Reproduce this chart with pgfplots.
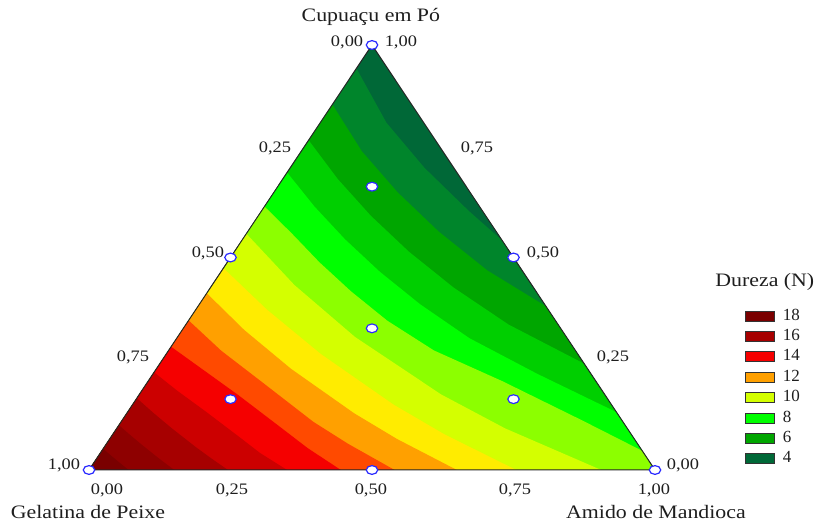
\documentclass[border=0pt]{standalone}
\usepackage{fontspec}
\setmainfont{Liberation Serif}
\usepackage{graphicx}
\usepackage{pgfplots}
\pgfplotsset{compat=1.18}
\definecolor{b4}{HTML}{006837}
\definecolor{b5}{HTML}{00852B}
\definecolor{b6}{HTML}{00A600}
\definecolor{b7}{HTML}{00CF00}
\definecolor{b8}{HTML}{00FF00}
\definecolor{b9}{HTML}{8CFF00}
\definecolor{b10}{HTML}{D4FF00}
\definecolor{b11}{HTML}{FFEC00}
\definecolor{b12}{HTML}{FFA000}
\definecolor{b13}{HTML}{FF4A00}
\definecolor{b14}{HTML}{F50000}
\definecolor{b15}{HTML}{CC0000}
\definecolor{b16}{HTML}{A60000}
\definecolor{b17}{HTML}{8E0000}
\definecolor{b18}{HTML}{7A0000}
\definecolor{ptblue}{HTML}{2A2AFF}
\definecolor{txt}{HTML}{1E1E1E}
\newcommand{\sx}[1]{\scalebox{1.15}[1]{#1}}
\newcommand{\tk}{\fontsize{8}{9}\selectfont}
\newcommand{\tl}{\fontsize{9.5}{11}\selectfont}
\begin{document}
\begin{tikzpicture}
\begin{axis}[
  name=ax,
  width=407.5pt, height=261.5pt, scale only axis,
  xmin=-0.15724, xmax=1.28269, ymin=-0.12471, ymax=1.10588,
  hide axis, clip=false,
  legend style={at={(axis cs:1.159,0.379)}, anchor=north west, draw=none, fill=none,
    inner sep=0pt, outer sep=0pt, row sep=3.05pt, column sep=4pt,
    font=\fontsize{8.5}{9}\selectfont, nodes={inner sep=0pt, text=txt}},
  legend cell align=left,
  legend image code/.code={\draw[#1, draw=black!80, line width=0.4pt] (0pt,-2.5pt) rectangle (14.5pt,2.5pt);},
  every node/.append style={inner sep=0pt, outer sep=0pt},
]
% bands, painted from the lowest level upwards
\addplot[fill=b4, draw=none, forget plot] coordinates {(0,0) (1,0) (0.5,1)} -- cycle;
\addplot[fill=b5, draw=none, forget plot] coordinates {(0.4725,0.945) (0.5254,0.8173) (0.5926,0.7111) (0.6708,0.6098) (0.73,0.54) (1,0) (0,0)} -- cycle;
\addplot[fill=b6, draw=none, forget plot] coordinates {(0.43,0.86) (0.4821,0.7499) (0.5449,0.6539) (0.6175,0.5614) (0.704,0.4694) (0.8075,0.385) (1,0) (0,0)} -- cycle;
\addplot[fill=b7, draw=none, forget plot] coordinates {(0.388,0.776) (0.4398,0.6841) (0.4982,0.5978) (0.5651,0.5138) (0.644,0.4294) (0.7413,0.3422) (0.875,0.25) (1,0) (0,0)} -- cycle;
\addplot[fill=b8, draw=none, forget plot] coordinates {(0.35,0.70) (0.3984,0.6198) (0.4523,0.5428) (0.5135,0.4668) (0.585,0.39) (0.672,0.3102) (0.7919,0.2263) (0.932,0.136) (1,0) (0,0)} -- cycle;
\addplot[fill=b9, draw=none, forget plot] coordinates {(0.31,0.62) (0.358,0.5569) (0.4072,0.4886) (0.4627,0.4206) (0.527,0.3513) (0.6094,0.2813) (0.7306,0.2088) (0.8719,0.1163) (0.9775,0.045) (1,0) (0,0)} -- cycle;
\addplot[fill=b10, draw=none, forget plot] coordinates {(0.278,0.556) (0.3628,0.4354) (0.4698,0.3132) (0.6221,0.1778) (0.735,0.098) (0.905,0) (0,0)} -- cycle;
\addplot[fill=b11, draw=none, forget plot] coordinates {(0.2375,0.475) (0.3144,0.3773) (0.4095,0.273) (0.5381,0.1538) (0.6281,0.0838) (0.755,0) (0,0)} -- cycle;
\addplot[fill=b12, draw=none, forget plot] coordinates {(0.208,0.416) (0.2744,0.3293) (0.357,0.238) (0.4681,0.1338) (0.5447,0.0726) (0.65,0) (0,0)} -- cycle;
\addplot[fill=b13, draw=none, forget plot] coordinates {(0.176,0.352) (0.2338,0.2805) (0.3075,0.205) (0.3964,0.1133) (0.4584,0.0611) (0.54,0) (0,0)} -- cycle;
\addplot[fill=b14, draw=none, forget plot] coordinates {(0.145,0.29) (0.1988,0.2385) (0.264,0.176) (0.3413,0.0975) (0.3863,0.0515) (0.445,0) (0,0)} -- cycle;
\addplot[fill=b15, draw=none, forget plot] coordinates {(0.115,0.23) (0.1556,0.1868) (0.2063,0.1375) (0.2669,0.0763) (0.3019,0.0403) (0.35,0) (0,0)} -- cycle;
\addplot[fill=b16, draw=none, forget plot] coordinates {(0.0845,0.169) (0.1128,0.1354) (0.1466,0.0978) (0.1887,0.0539) (0.2147,0.0286) (0.2455,0) (0,0)} -- cycle;
\addplot[fill=b17, draw=none, forget plot] coordinates {(0.0528,0.1055) (0.0706,0.0848) (0.0917,0.0612) (0.1175,0.0336) (0.1329,0.0177) (0.1507,0) (0,0)} -- cycle;
\addplot[fill=b18, draw=none, forget plot] coordinates {(0.025,0.05) (0.0334,0.0401) (0.0434,0.0289) (0.0554,0.0158) (0.0623,0.0083) (0.07,0) (0,0)} -- cycle;
% outline
\addplot[draw=black!85, line width=0.5pt, forget plot] coordinates {(0,0) (1,0) (0.5,1)} -- cycle;
% design points
\addplot[only marks, mark=*, mark size=2.2pt, forget plot,
  mark options={fill=white, draw=ptblue, line width=0.6pt, xscale=1.3}]
  coordinates {(0,0) (1,0) (0.5,1) (0.25,0.5) (0.75,0.5) (0.5,0) (0.5,0.3333) (0.25,0.1667) (0.75,0.1667) (0.5,0.6667)};
% legend
\addlegendimage{fill=b18}\addlegendentry{18}
\addlegendimage{fill=b16}\addlegendentry{16}
\addlegendimage{fill=b14}\addlegendentry{14}
\addlegendimage{fill=b12}\addlegendentry{12}
\addlegendimage{fill=b10}\addlegendentry{10}
\addlegendimage{fill=b8}\addlegendentry{8}
\addlegendimage{fill=b6}\addlegendentry{6}
\addlegendimage{fill=b4}\addlegendentry{4}
% labels
\node[font=\tl, text=txt] at (axis cs:0.498,1.066) {\sx{Cupuaçu em Pó}};
\node[font=\tl, text=txt] at (axis cs:-0.0018,-0.0988) {\sx{Gelatina de Peixe}};
\node[font=\tl, text=txt] at (axis cs:1.0018,-0.0988) {\sx{Amido de Mandioca}};
\node[font=\tl, text=txt] at (axis cs:1.194,0.4424) {\sx{Dureza (N)}};
\node[font=\tk, text=txt] at (axis cs:0.456,1.007) {\sx{0,00}};
\node[font=\tk, text=txt] at (axis cs:0.551,1.007) {\sx{1,00}};
\node[font=\tk, text=txt] at (axis cs:0.3286,0.7576) {\sx{0,25}};
\node[font=\tk, text=txt] at (axis cs:0.6855,0.7576) {\sx{0,75}};
\node[font=\tk, text=txt] at (axis cs:0.210,0.5106) {\sx{0,50}};
\node[font=\tk, text=txt] at (axis cs:0.802,0.5106) {\sx{0,50}};
\node[font=\tk, text=txt] at (axis cs:0.0777,0.266) {\sx{0,75}};
\node[font=\tk, text=txt] at (axis cs:0.9258,0.266) {\sx{0,25}};
\node[font=\tk, text=txt] at (axis cs:-0.0442,0.0118) {\sx{1,00}};
\node[font=\tk, text=txt] at (axis cs:1.0495,0.0118) {\sx{0,00}};
\node[font=\tk, text=txt] at (axis cs:0.0318,-0.047) {\sx{0,00}};
\node[font=\tk, text=txt] at (axis cs:0.2527,-0.047) {\sx{0,25}};
\node[font=\tk, text=txt] at (axis cs:0.498,-0.047) {\sx{0,50}};
\node[font=\tk, text=txt] at (axis cs:0.7527,-0.047) {\sx{0,75}};
\node[font=\tk, text=txt] at (axis cs:0.998,-0.047) {\sx{1,00}};
\end{axis}
\pgfresetboundingbox
\path[use as bounding box] (ax.south west) rectangle (ax.north east);
\end{tikzpicture}
\end{document}
